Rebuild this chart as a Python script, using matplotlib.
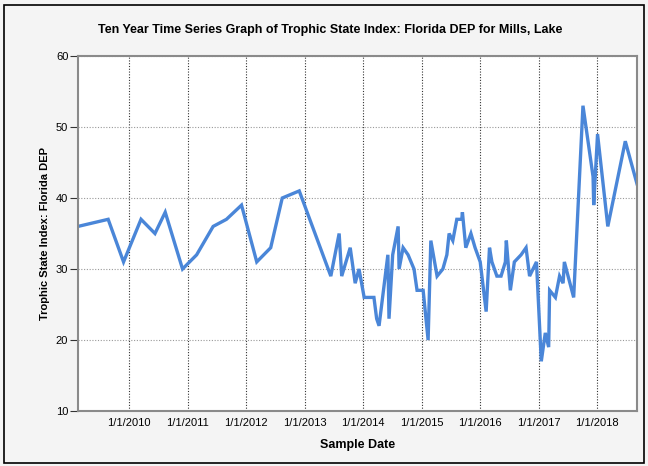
import pandas as pd
import matplotlib.pyplot as plt
import matplotlib.dates as mdates
from matplotlib.patches import Rectangle

# =========================
# Data
# =========================
sample_dates = [
    "2009-02-17", "2009-08-24", "2009-11-28", "2010-03-17", "2010-06-12", "2010-08-15",
    "2010-12-01", "2011-02-27", "2011-06-10", "2011-09-01", "2011-12-04", "2012-03-08",
    "2012-06-03", "2012-08-14", "2012-11-28", "2013-06-13", "2013-08-04", "2013-08-20",
    "2013-10-12", "2013-11-12", "2013-12-06", "2014-01-07", "2014-03-09", "2014-03-26",
    "2014-04-10", "2014-06-04", "2014-06-11", "2014-07-04", "2014-08-07", "2014-08-13",
    "2014-09-07", "2014-10-08", "2014-11-14", "2014-12-03", "2015-01-10", "2015-02-10",
    "2015-02-27", "2015-04-07", "2015-05-13", "2015-06-07", "2015-06-21", "2015-07-14",
    "2015-08-08", "2015-09-08", "2015-09-12", "2015-10-03", "2015-11-04", "2015-11-30",
    "2016-01-01", "2016-02-07", "2016-02-28", "2016-03-14", "2016-04-14", "2016-05-10",
    "2016-06-06", "2016-06-12", "2016-07-07", "2016-08-01", "2016-09-12", "2016-10-13",
    "2016-11-04", "2016-12-17", "2017-01-16", "2017-02-10", "2017-03-03", "2017-03-09",
    "2017-04-14", "2017-05-10", "2017-06-01", "2017-06-09", "2017-08-06", "2017-10-03",
    "2017-12-05", "2017-12-09", "2018-01-02", "2018-03-07", "2018-06-24", "2018-09-05",
]
tsi_values = [
    36, 37, 31, 37, 35, 38,
    30, 32, 36, 37, 39, 31,
    33, 40, 41, 29, 35, 29,
    33, 28, 30, 26, 26, 23,
    22, 32, 23, 32, 36, 30,
    33, 32, 30, 27, 27, 20,
    34, 29, 30, 32, 35, 34,
    37, 37, 38, 33, 35, 33,
    31, 24, 33, 31, 29, 29,
    31, 34, 27, 31, 32, 33,
    29, 31, 17, 21, 19, 27,
    26, 29, 28, 31, 26, 53,
    43, 39, 49, 36, 48, 42,
]

df = pd.DataFrame({"date": pd.to_datetime(sample_dates), "tsi": tsi_values})

# =========================
# Plot
# =========================
plt.rcParams["font.family"] = ["Liberation Sans", "DejaVu Sans"]

fig = plt.figure(figsize=(6.48, 4.66), dpi=100, facecolor="#f4f4f4")
fig.patches.append(Rectangle((0.006, 0.006), 0.988, 0.984, transform=fig.transFigure,
                             fill=False, edgecolor="black", linewidth=1.2))
ax = fig.add_axes([0.1204, 0.118, 0.8626, 0.7618])
ax.set_facecolor("white")

ax.plot(df["date"], df["tsi"], color="#4a86d8", linewidth=2.4, solid_joinstyle="miter")

ax.set_xlim(df["date"].min(), df["date"].max())
ax.set_ylim(10, 60)
ax.set_yticks([10, 20, 30, 40, 50, 60])

ax.xaxis.set_major_locator(mdates.YearLocator())
ax.xaxis.set_major_formatter(plt.FuncFormatter(
    lambda v, pos: "{0.month}/{0.day}/{0.year}".format(mdates.num2date(v))))

ax.grid(axis="x", color="#333333", linestyle=(0, (1, 1.5)), linewidth=0.8)
ax.grid(axis="y", color="#999999", linestyle=(0, (1, 1.5)), linewidth=0.8)

for side in ["left", "bottom", "right", "top"]:
    ax.spines[side].set_color("#8a8a8a")
    ax.spines[side].set_linewidth(1.5)

ax.tick_params(axis="y", direction="out", length=6, width=0.8, color="#333333",
               labelsize=8, pad=1)
ax.tick_params(axis="x", length=0, labelsize=8, pad=5)

ax.set_xlabel("Sample Date", fontsize=9, fontweight="bold", labelpad=8)
ax.set_ylabel("Trophic State Index: Florida DEP", fontsize=8, fontweight="bold", labelpad=4)
fig.text(0.51, 0.936, "Ten Year Time Series Graph of Trophic State Index: Florida DEP for Mills, Lake",
         ha="center", va="center", fontsize=9, fontweight="bold")

plt.savefig("out.png", dpi=100, facecolor=fig.get_facecolor())
